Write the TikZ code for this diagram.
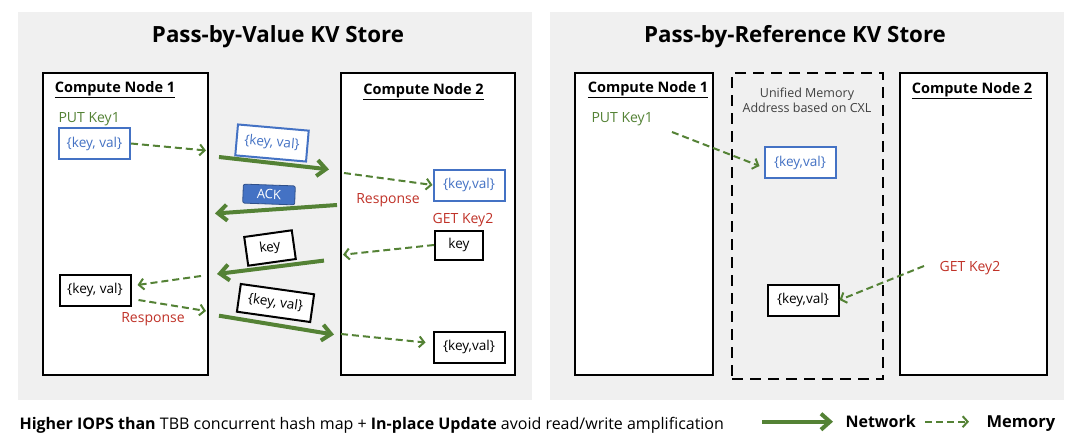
\documentclass[tikz,border=0pt]{standalone}
\usepackage{fontspec}
\setmainfont{Open Sans}
\usetikzlibrary{arrows.meta,positioning,calc}
\definecolor{netgreen}{RGB}{84,130,53}
\definecolor{kvblue}{RGB}{68,114,196}
\definecolor{respred}{RGB}{192,50,40}
\definecolor{panelgray}{RGB}{240,240,240}
\newcommand{\fs}[1]{\fontsize{#1}{1.2\dimexpr#1pt\relax}\selectfont}

\begin{document}
\begin{tikzpicture}[
  x=1pt, y=-1pt,
  panel/.style={fill=panelgray, draw=none},
  compute/.style={rectangle, draw=black, fill=white, line width=2.4pt, inner sep=0pt},
  cxl/.style={rectangle, draw=black, line width=2.4pt, dash pattern=on 11pt off 7pt, inner sep=0pt},
  title/.style={font=\fs{22.3}\bfseries},
  cnlbl/.style={font=\fs{14.5}\bfseries},
  kv/.style={rectangle, draw=black, line width=2pt, fill=white, font=\fs{13.6},
    minimum width=71pt, minimum height=31pt, inner sep=1pt},
  kvb/.style={kv, draw=kvblue, text=kvblue},
  keybox/.style={kv, minimum width=48pt, minimum height=29pt},
  ack/.style={rectangle, rounded corners=2pt, draw=kvblue!70!black, line width=0.8pt, fill=kvblue,
    text=white, font=\fs{13}, minimum width=52pt, minimum height=19pt, inner sep=1pt},
  lbl/.style={font=\fs{14}},
  put/.style={lbl, text=netgreen},
  resp/.style={lbl, text=respred},
  net/.style={draw=netgreen, line width=4pt, -{Straight Barb[length=9pt,width=16pt]}},
  mem/.style={draw=netgreen, line width=2pt, dash pattern=on 7pt off 4pt,
    -{Straight Barb[length=5pt,width=11pt]}},
]
\useasboundingbox (0,0) rectangle (1080,444);

\fill[panel] (18,12) rectangle (532,400);
\fill[panel] (550,12) rectangle (1064,400);

% Pass-by-Value
\node[title] (tV) at (278,37) {Pass-by-Value KV Store};
\node[compute, minimum width=165pt, minimum height=302pt] (vA) at (125.4,224) {};
\node[compute, minimum width=174pt, minimum height=302pt] (vB) at (428,224) {};
\node[cnlbl] at (115,90) {\underline{Compute Node 1}};
\node[cnlbl] at (423.6,91.6) {\underline{Compute Node 2}};

\node[put, anchor=west] (putA) at (55,119) {PUT Key1};
\node[kvb] (kvA1) at (94.5,143.5) {\{key, val\}};
\node[kvb, rotate=-5] (kvM1) at (272,143) {\{key, val\}};
\node[kvb] (kvB1) at (469,185) {\{key,val\}};
\node[ack, rotate=-2] (ackM) at (269,194.5) {ACK};
\node[resp] (respB) at (388,200) {Response};
\node[resp] (getB) at (463,220) {GET Key2};
\node[keybox] (keyB) at (459,245) {key};
\node[keybox, rotate=8] (keyM) at (270,248) {key};
\node[kv] (kvA2) at (95,290) {\{key, val\}};
\node[resp] (respA) at (153,319.5) {Response};
\node[kv, rotate=-8, minimum width=74pt, minimum height=28pt] (kvM2) at (275.5,303) {\{key, val\}};
\node[kv] (kvB2) at (469,347) {\{key,val\}};

\coordinate (m1e) at (206,150.5);
\coordinate (n1s) at (219,157);   \coordinate (n1e) at (329,169.4);
\coordinate (m2s) at (344,173);
\coordinate (n2s) at (337,205);   \coordinate (n2e) at (215,213.5);
\coordinate (m3e) at (343,254.7);
\coordinate (n3s) at (324,260.6); \coordinate (n3e) at (217,274);
\coordinate (m4s) at (201,276);
\coordinate (m5e) at (206,311);
\coordinate (n4s) at (219,315.7); \coordinate (n4e) at (334,334.6);
\coordinate (m6s) at (341,334);

\draw[mem] (kvA1.east) -- (m1e);
\draw[net] (n1s) -- (n1e);
\draw[mem] (m2s) -- (kvB1.west);
\draw[net] (n2s) -- (n2e);
\draw[mem] (keyB.west) -- (m3e);
\draw[net] (n3s) -- (n3e);
\draw[mem] (m4s) -- ([xshift=6pt,yshift=5pt]kvA2.east);
\draw[mem] ([xshift=7pt,yshift=-10pt]kvA2.east) -- (m5e);
\draw[net] (n4s) -- (n4e);
\draw[mem] (m6s) -- ([xshift=-7pt,yshift=4.5pt]kvB2.west);

% Pass-by-Reference
\node[title] (tR) at (795,37) {Pass-by-Reference KV Store};
\node[compute, minimum width=138pt, minimum height=302pt] (rA) at (644,224) {};
\node[cxl, minimum width=151pt, minimum height=306pt] (rM) at (807.5,226) {};
\node[compute, minimum width=147pt, minimum height=302pt] (rB) at (973.5,224) {};
\node[cnlbl] at (648,90) {\underline{Compute Node 1}};
\node[cnlbl] at (972,91) {\underline{Compute Node 2}};
\node[font=\fs{12.5}, text=black!75, align=center] (cxlT) at (807,100)
  {Unified Memory\\Address based on CXL};

\node[put, anchor=west] (putR) at (588,119) {PUT Key1};
\node[kvb] (kvR1) at (800,162.5) {\{key,val\}};
\node[resp] (getR) at (970,268.5) {GET Key2};
\node[kv] (kvR2) at (803,300) {\{key,val\}};
\coordinate (m7s) at (672,132);
\coordinate (m8s) at (924,266);
\draw[mem] (m7s) -- ([xshift=-4pt,yshift=-3.5pt]kvR1.west);
\draw[mem] (m8s) -- (kvR2.east);

% bottom line and legend
\node[anchor=base west, font=\fs{16}] (note) at (16,429)
  {\textbf{Higher IOPS than} TBB concurrent hash map + \textbf{In-place Update} avoid read/write amplification};
\coordinate (lgN1) at (762,421.7); \coordinate (lgN2) at (833,421.7);
\draw[net] (lgN1) -- (lgN2);
\node[anchor=base west, font=\fs{16}\bfseries] (lgNet) at (842,427.5) {Network};
\coordinate (lgM2) at (969,421.7);
\draw[mem] (lgNet.east|-lgN1) ++(6pt,0) coordinate (lgM1) -- (lgM2);
\node[anchor=base west, font=\fs{16.5}\bfseries] (lgMem) at (983,427.5) {Memory};
\end{tikzpicture}
\end{document}
